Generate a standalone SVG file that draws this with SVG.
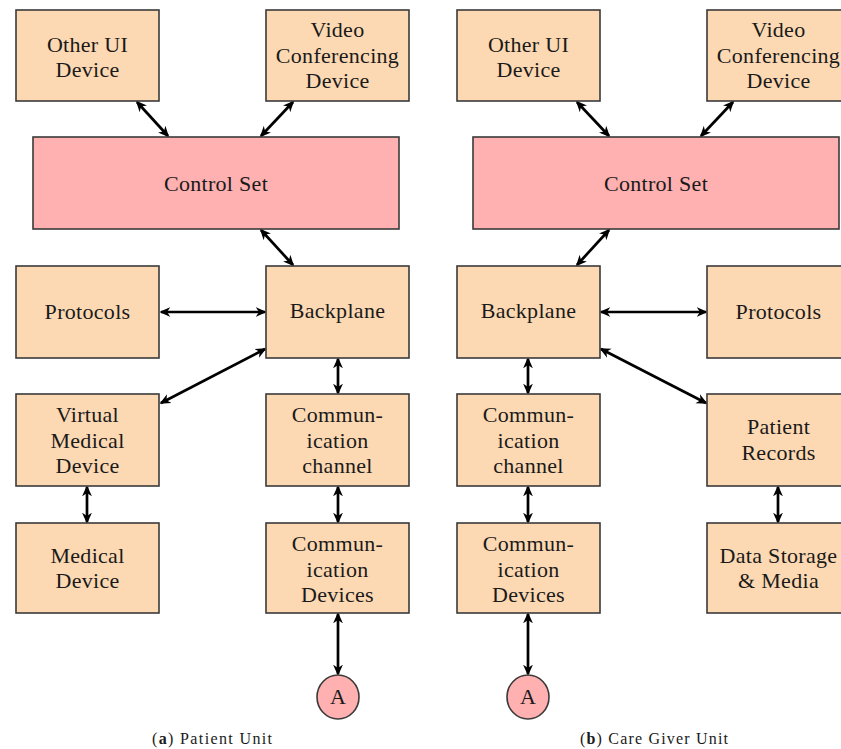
<svg xmlns="http://www.w3.org/2000/svg" width="841" height="749" viewBox="0 0 841 749">
<style>
.box{fill:#FDD9B3;stroke:#3a3a3a;stroke-width:1.6}
.ctl{fill:#FFB0B0;stroke:#3a3a3a;stroke-width:1.6}
text{font-family:"Liberation Serif",serif;font-size:22px;letter-spacing:0.3px;fill:#1a1a1a;text-anchor:middle}
.cap{font-size:16px;letter-spacing:0}
.c line{stroke:#000;stroke-width:2.7;marker-start:url(#ah);marker-end:url(#ah)}
</style>
<defs>
<marker id="ah" viewBox="0 0 10 10" refX="8.5" refY="5" markerWidth="11" markerHeight="11" markerUnits="userSpaceOnUse" orient="auto-start-reverse">
<path d="M0,0.5 L10,5 L0,9.5 L3,5 z" fill="#000"/>
</marker>
</defs>
<rect width="841" height="749" fill="#fff"/>
<g class="c" id="connectors">
<line x1="137" y1="102" x2="168" y2="136"/>
<line x1="293" y1="102" x2="261" y2="136"/>
<line x1="261" y1="230" x2="293" y2="265"/>
<line x1="161" y1="312" x2="265" y2="312"/>
<line x1="265" y1="349" x2="161" y2="403"/>
<line x1="338" y1="359" x2="338" y2="393"/>
<line x1="338" y1="487" x2="338" y2="522"/>
<line x1="87" y1="487" x2="87" y2="522"/>
<line x1="338" y1="614" x2="338" y2="674"/>
<line x1="577" y1="102" x2="609" y2="136"/>
<line x1="733" y1="102" x2="701" y2="136"/>
<line x1="609" y1="230" x2="577" y2="265"/>
<line x1="601" y1="312" x2="706" y2="312"/>
<line x1="601" y1="349" x2="706" y2="403"/>
<line x1="528" y1="359" x2="528" y2="393"/>
<line x1="528" y1="487" x2="528" y2="522"/>
<line x1="778" y1="487" x2="778" y2="522"/>
<line x1="528" y1="614" x2="528" y2="674"/>
</g>
<g id="a-otherui"><rect class="box" x="16" y="10" width="143" height="91"/><text x="87.5" y="52">Other UI</text><text x="87.5" y="77">Device</text></g>
<g id="a-video"><rect class="box" x="266" y="10" width="143" height="91"/><text x="337.5" y="37">Video</text><text x="337.5" y="62.5">Conferencing</text><text x="337.5" y="88">Device</text></g>
<g id="a-control"><rect class="ctl" x="33" y="137" width="366" height="92"/><text x="216" y="191">Control Set</text></g>
<g id="a-protocols"><rect class="box" x="16" y="266" width="143" height="92"/><text x="87.5" y="319">Protocols</text></g>
<g id="a-backplane"><rect class="box" x="266" y="266" width="143" height="92"/><text x="337.5" y="318">Backplane</text></g>
<g id="a-vmd"><rect class="box" x="16" y="394" width="143" height="92"/><text x="87.5" y="422">Virtual</text><text x="87.5" y="447.5">Medical</text><text x="87.5" y="473">Device</text></g>
<g id="a-channel"><rect class="box" x="266" y="394" width="143" height="92"/><text x="337.5" y="422">Commun-</text><text x="337.5" y="447.5">ication</text><text x="337.5" y="473">channel</text></g>
<g id="a-medical"><rect class="box" x="16" y="523" width="143" height="90"/><text x="87.5" y="563">Medical</text><text x="87.5" y="588">Device</text></g>
<g id="a-devices"><rect class="box" x="266" y="523" width="143" height="90"/><text x="337.5" y="551">Commun-</text><text x="337.5" y="576.5">ication</text><text x="337.5" y="602">Devices</text></g>
<g id="a-A"><ellipse cx="338" cy="697" rx="21" ry="22" fill="#FFB0B0" stroke="#3a3a3a" stroke-width="1.6"/><text x="338" y="704">A</text></g>
<g id="b-otherui"><rect class="box" x="457" y="10" width="143" height="91"/><text x="528.5" y="52">Other UI</text><text x="528.5" y="77">Device</text></g>
<g id="b-video"><rect class="box" x="707" y="10" width="143" height="91"/><text x="778.5" y="37">Video</text><text x="778.5" y="62.5">Conferencing</text><text x="778.5" y="88">Device</text></g>
<g id="b-control"><rect class="ctl" x="473" y="137" width="366" height="92"/><text x="656" y="191">Control Set</text></g>
<g id="b-backplane"><rect class="box" x="457" y="266" width="143" height="92"/><text x="528.5" y="318">Backplane</text></g>
<g id="b-protocols"><rect class="box" x="707" y="266" width="143" height="92"/><text x="778.5" y="319">Protocols</text></g>
<g id="b-channel"><rect class="box" x="457" y="394" width="143" height="92"/><text x="528.5" y="422">Commun-</text><text x="528.5" y="447.5">ication</text><text x="528.5" y="473">channel</text></g>
<g id="b-records"><rect class="box" x="707" y="394" width="143" height="92"/><text x="778.5" y="434">Patient</text><text x="778.5" y="460">Records</text></g>
<g id="b-devices"><rect class="box" x="457" y="523" width="143" height="90"/><text x="528.5" y="551">Commun-</text><text x="528.5" y="576.5">ication</text><text x="528.5" y="602">Devices</text></g>
<g id="b-storage"><rect class="box" x="707" y="523" width="143" height="90"/><text x="778.5" y="563">Data Storage</text><text x="778.5" y="588">&amp; Media</text></g>
<g id="b-A"><ellipse cx="528" cy="697" rx="21" ry="22" fill="#FFB0B0" stroke="#3a3a3a" stroke-width="1.6"/><text x="528" y="704">A</text></g>
<text class="cap" x="212" y="744" textLength="120" lengthAdjust="spacing">(<tspan font-weight="bold">a</tspan>)  Patient Unit</text>
<text class="cap" x="654" y="744" textLength="148" lengthAdjust="spacing">(<tspan font-weight="bold">b</tspan>)  Care Giver Unit</text>
</svg>
